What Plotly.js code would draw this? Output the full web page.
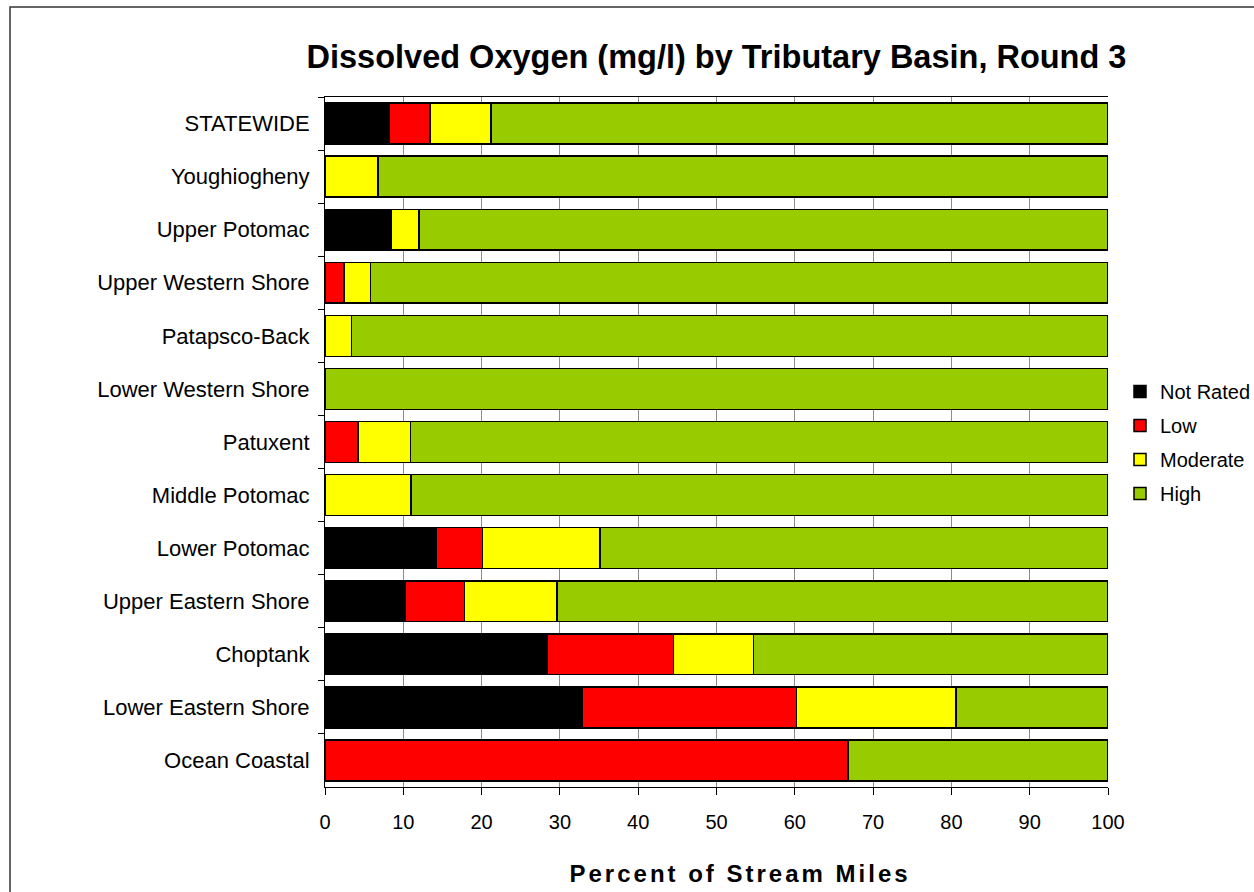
<!DOCTYPE html>
<html>
<head>
<meta charset="utf-8">
<script src="https://cdn.plot.ly/plotly-3.0.1.min.js"></script>
<style>
html,body{margin:0;padding:0;background:#fff;}
#chart{width:1254px;height:892px;}
#chart .annotation-text{letter-spacing:3px;}
</style>
</head>
<body>
<div id="chart"></div>
<script>
const basins = ["STATEWIDE","Youghiogheny","Upper Potomac","Upper Western Shore","Patapsco-Back","Lower Western Shore","Patuxent","Middle Potomac","Lower Potomac","Upper Eastern Shore","Choptank","Lower Eastern Shore","Ocean Coastal"];
const notRated = [8.2, 0, 8.5, 0, 0, 0, 0, 0, 14.2, 10.3, 28.4, 32.8, 0];
const low      = [5.2, 0, 0, 2.4, 0, 0, 4.2, 0, 5.9, 7.5, 16.1, 27.4, 66.8];
const moderate = [7.8, 6.8, 3.5, 3.4, 3.4, 0, 6.7, 11.0, 15.0, 11.8, 10.2, 20.4, 0];
const high     = [78.8, 93.2, 88.0, 94.2, 96.6, 100, 89.1, 89.0, 64.9, 70.4, 45.3, 19.4, 33.2];
const seriesNames = ["Not Rated","Low","Moderate","High"];
const seriesColors = ["#000000","#FF0000","#FFFF00","#99CC00"];
const xTicks = [0,10,20,30,40,50,60,70,80,90,100];

const values = [notRated, low, moderate, high];
const traces = values.map((v, i) => ({
  type: "bar",
  orientation: "h",
  name: seriesNames[i],
  legendgroup: "g" + i,
  y: basins,
  x: v,
  marker: {color: seriesColors[i], line: {color: "#000000", width: 1.5}},
  hoverinfo: "x+y+name"
}));

const layout = {
  width: 1254, height: 892,
  margin: {l: 325, r: 146, t: 97, b: 105, autoexpand: false},
  paper_bgcolor: "#ffffff", plot_bgcolor: "#ffffff",
  barmode: "stack",
  bargap: 0.23,
  font: {family: "Liberation Sans, Arial, sans-serif", color: "#000000"},
  title: {
    text: "<b>Dissolved Oxygen (mg/l) by Tributary Basin, Round 3</b>",
    font: {size: 32.5, family: "Liberation Sans, Arial, sans-serif", color: "#000"},
    x: 716.5/1254, xanchor: "center", xref: "container",
    y: 1 - 57/892, yanchor: "middle", yref: "container"
  },
  xaxis: {
    range: [0, 100], tickvals: xTicks, ticktext: xTicks.map(String),
    showgrid: true, gridcolor: "#8c8c8c", gridwidth: 1,
    zeroline: false, showline: true, mirror: true, linecolor: "#000", linewidth: 1,
    ticks: "outside", ticklen: 7, tickcolor: "#000", tickwidth: 1,
    tickfont: {size: 20, color: "#000"},
    ticklabelstandoff: 10,
    fixedrange: true
  },
  yaxis: {
    autorange: "reversed", type: "category",
    showgrid: false, zeroline: false, showline: true, linecolor: "#000", linewidth: 1,
    ticks: "outside", tickson: "boundaries", ticklen: 6, tickcolor: "#000",
    tickfont: {size: 22, color: "#000"},
    ticklabelstandoff: 10,
    fixedrange: true
  },
  legend: {
    x: (1120 - 325)/783, xanchor: "left", y: (787 - 372)/690, yanchor: "top",
    font: {size: 20, color: "#000"},
    traceorder: "grouped", itemwidth: 30, tracegroupgap: 5,
    bgcolor: "rgba(0,0,0,0)"
  },
  annotations: [{
    text: "<b>Percent of Stream Miles</b>",
    xref: "paper", yref: "paper",
    x: (740 - 325)/783, xanchor: "center",
    y: (787 - 873)/690, yanchor: "middle",
    showarrow: false,
    font: {size: 24, color: "#000", family: "Liberation Sans, Arial, sans-serif"}
  }],
  shapes: [{
    type: "rect", xref: "paper", yref: "paper",
    x0: (10 - 325)/783, x1: (1262 - 325)/783,
    y0: (787 - 900)/690, y1: (787 - 7)/690,
    line: {color: "#333333", width: 1.5}, fillcolor: "rgba(0,0,0,0)", layer: "below"
  }],
  showlegend: true
};

Plotly.newPlot("chart", traces, layout, {displayModeBar: false, staticPlot: true});
</script>
</body>
</html>
